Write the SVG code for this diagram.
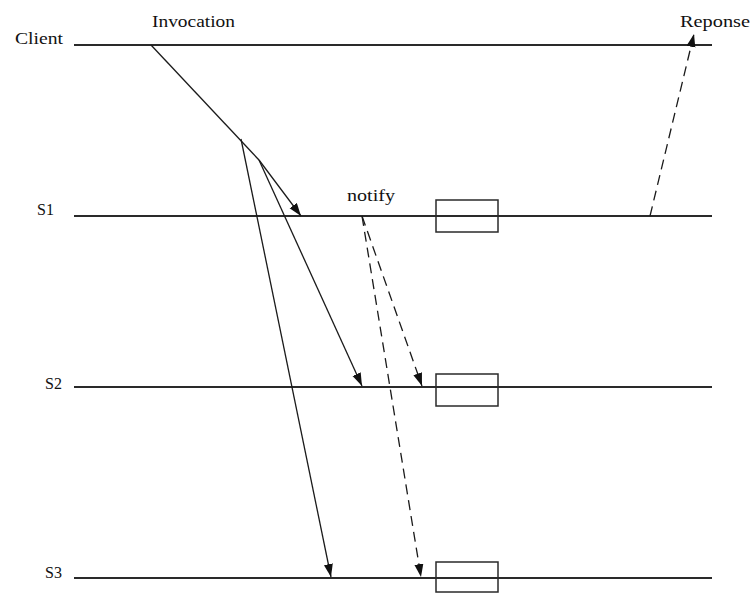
<svg xmlns="http://www.w3.org/2000/svg" width="751" height="593" viewBox="0 0 751 593">
  <style>
    .lane { stroke: #2a2a2a; stroke-width: 1.8; fill: none; }
    .msg { stroke: #1a1a1a; stroke-width: 1.3; fill: none; }
    .dash { stroke-dasharray: 10 6; }
    .box { stroke: #2a2a2a; stroke-width: 1.5; fill: none; }
    .lbl { font-family: "Liberation Serif", "Times New Roman", serif; font-size: 16px; fill: #111; }
  </style>
  <defs>
    <marker id="head" markerUnits="userSpaceOnUse" markerWidth="14" markerHeight="10" refX="13" refY="4.5" orient="auto">
      <path d="M0,0 L13,4.5 L0,9 z" fill="#111"/>
    </marker>
  </defs>
  <rect width="751" height="593" fill="#fff"/>

  <!-- process timelines -->
  <g id="client">
    <line class="lane" x1="74" y1="45" x2="712" y2="45"/>
    <text class="lbl" x="15" y="44" textLength="48" lengthAdjust="spacingAndGlyphs">Client</text>
  </g>
  <g id="s1">
    <line class="lane" x1="74" y1="216" x2="712" y2="216"/>
    <text class="lbl" x="37" y="215">S1</text>
    <rect class="box" x="436" y="200" width="62" height="32"/>
  </g>
  <g id="s2">
    <line class="lane" x1="74" y1="387" x2="712" y2="387"/>
    <text class="lbl" x="45" y="389">S2</text>
    <rect class="box" x="436" y="374" width="62" height="32"/>
  </g>
  <g id="s3">
    <line class="lane" x1="74" y1="578" x2="712" y2="578"/>
    <text class="lbl" x="45" y="578">S3</text>
    <rect class="box" x="436" y="562" width="62" height="30"/>
  </g>

  <!-- messages -->
  <g id="connectors">
    <line class="msg" x1="151" y1="45" x2="259" y2="160"/>
    <line class="msg" x1="259" y1="160" x2="301" y2="216" marker-end="url(#head)"/>
    <line class="msg" x1="259" y1="160" x2="362" y2="386" marker-end="url(#head)"/>
    <line class="msg" x1="241" y1="139" x2="331" y2="577" marker-end="url(#head)"/>
    <line class="msg dash" x1="362" y1="216" x2="422" y2="386" marker-end="url(#head)"/>
    <line class="msg dash" x1="362" y1="216" x2="421" y2="577" marker-end="url(#head)"/>
    <line class="msg dash" x1="650" y1="216" x2="694" y2="34" marker-end="url(#head)"/>
  </g>

  <!-- message labels -->
  <g id="labels">
    <text class="lbl" x="152" y="27" textLength="83" lengthAdjust="spacingAndGlyphs">Invocation</text>
    <text class="lbl" x="347" y="201" textLength="48" lengthAdjust="spacingAndGlyphs">notify</text>
    <text class="lbl" x="680" y="27" textLength="70" lengthAdjust="spacingAndGlyphs">Reponse</text>
  </g>
</svg>
